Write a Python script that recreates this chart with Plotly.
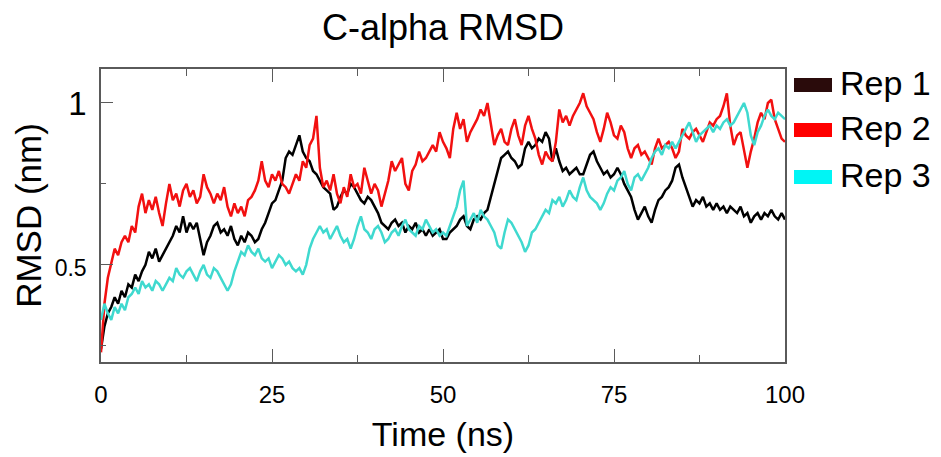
import plotly.graph_objects as go

# Time axis (ns), sampled every 0.5 ns
time_ns = [i * 0.5 for i in range(201)]

rep1 = [
    0.24, 0.31, 0.35, 0.37, 0.40, 0.38, 0.42, 0.40, 0.44, 0.43,
    0.47, 0.45, 0.48, 0.50, 0.54, 0.52, 0.55, 0.51, 0.53, 0.55,
    0.57, 0.59, 0.62, 0.60, 0.65, 0.60, 0.63, 0.61, 0.63, 0.58,
    0.53, 0.57, 0.59, 0.62, 0.63, 0.60, 0.61, 0.59, 0.62, 0.58,
    0.56, 0.59, 0.57, 0.60, 0.59, 0.57, 0.58, 0.61, 0.63, 0.66,
    0.69, 0.70, 0.73, 0.76, 0.83, 0.85, 0.84, 0.87, 0.90, 0.85,
    0.83, 0.82, 0.79, 0.78, 0.76, 0.74, 0.73, 0.72, 0.67, 0.68,
    0.71, 0.73, 0.72, 0.75, 0.74, 0.72, 0.70, 0.69, 0.71, 0.70,
    0.68, 0.66, 0.63, 0.62, 0.61, 0.63, 0.64, 0.62, 0.63, 0.60,
    0.62, 0.61, 0.63, 0.60, 0.61, 0.59, 0.61, 0.59, 0.60, 0.61,
    0.58, 0.58, 0.60, 0.61, 0.62, 0.64, 0.65, 0.62, 0.61, 0.64,
    0.65, 0.64, 0.66, 0.67, 0.71, 0.75, 0.79, 0.83, 0.84, 0.85,
    0.83, 0.82, 0.80, 0.81, 0.86, 0.88, 0.86, 0.87, 0.89, 0.88,
    0.91, 0.89, 0.82, 0.86, 0.82, 0.79, 0.80, 0.78, 0.79, 0.80,
    0.78, 0.78, 0.81, 0.84, 0.85, 0.82, 0.80, 0.78, 0.79, 0.77,
    0.78, 0.80, 0.78, 0.75, 0.73, 0.71, 0.67, 0.64, 0.66, 0.68,
    0.65, 0.63, 0.67, 0.70, 0.71, 0.73, 0.74, 0.76, 0.80, 0.81,
    0.77, 0.74, 0.71, 0.68, 0.70, 0.69, 0.71, 0.68, 0.69, 0.67,
    0.69, 0.67, 0.68, 0.66, 0.68, 0.67, 0.66, 0.68, 0.65, 0.66,
    0.63, 0.65, 0.66, 0.64, 0.66, 0.65, 0.67, 0.65, 0.64, 0.66,
    0.64,
]

rep2 = [
    0.23, 0.38, 0.46, 0.51, 0.55, 0.53, 0.57, 0.59, 0.57, 0.62,
    0.60, 0.68, 0.72, 0.66, 0.70, 0.67, 0.71, 0.66, 0.62, 0.69,
    0.75, 0.70, 0.72, 0.68, 0.73, 0.75, 0.71, 0.73, 0.69, 0.71,
    0.78, 0.74, 0.72, 0.69, 0.72, 0.70, 0.74, 0.68, 0.65, 0.69,
    0.66, 0.68, 0.65, 0.70, 0.71, 0.73, 0.76, 0.82, 0.76, 0.74,
    0.78, 0.76, 0.79, 0.75, 0.74, 0.72, 0.75, 0.78, 0.76, 0.82,
    0.80, 0.87, 0.89, 0.96, 0.80, 0.74, 0.76, 0.73, 0.78, 0.72,
    0.69, 0.74, 0.71, 0.78, 0.74, 0.75, 0.72, 0.80, 0.76, 0.72,
    0.75, 0.73, 0.68, 0.72, 0.76, 0.82, 0.79, 0.81, 0.83, 0.75,
    0.73, 0.79, 0.81, 0.85, 0.82, 0.83, 0.85, 0.87, 0.85, 0.91,
    0.88, 0.86, 0.83, 0.92, 0.97, 0.92, 0.95, 0.88, 0.91, 0.93,
    0.95, 0.98, 0.96, 1.00, 0.93, 0.87, 0.90, 0.92, 0.88, 0.87,
    0.92, 0.95, 0.90, 0.87, 0.93, 0.96, 0.92, 0.89, 0.84, 0.81,
    0.85, 0.83, 0.82, 0.88, 0.98, 0.94, 0.96, 0.93, 0.96, 0.98,
    1.00, 1.03, 0.99, 0.97, 0.95, 0.91, 0.88, 0.92, 0.97, 0.94,
    0.90, 0.89, 0.93, 0.91, 0.86, 0.83, 0.86, 0.87, 0.84, 0.85,
    0.83, 0.81, 0.86, 0.89, 0.86, 0.87, 0.88, 0.86, 0.83, 0.85,
    0.92, 0.90, 0.89, 0.91, 0.92, 0.90, 0.88, 0.91, 0.94, 0.93,
    0.95, 0.96, 0.99, 1.03, 0.93, 0.87, 0.90, 0.91, 0.85, 0.80,
    0.85, 0.89, 0.94, 0.97, 0.95, 1.00, 1.01, 0.95, 0.92, 0.89,
    0.88,
]

rep3 = [
    0.33, 0.38, 0.35, 0.33, 0.37, 0.35, 0.38, 0.36, 0.40, 0.41,
    0.43, 0.41, 0.45, 0.43, 0.44, 0.42, 0.45, 0.44, 0.42, 0.44,
    0.46, 0.45, 0.49, 0.47, 0.46, 0.48, 0.49, 0.47, 0.45, 0.48,
    0.50, 0.47, 0.46, 0.49, 0.48, 0.46, 0.44, 0.42, 0.44, 0.48,
    0.51, 0.54, 0.53, 0.56, 0.54, 0.53, 0.55, 0.52, 0.51, 0.52,
    0.49, 0.51, 0.53, 0.52, 0.50, 0.51, 0.49, 0.48, 0.49, 0.47,
    0.50, 0.55, 0.58, 0.60, 0.62, 0.60, 0.61, 0.58, 0.60, 0.62,
    0.59, 0.57, 0.58, 0.55, 0.58, 0.62, 0.65, 0.61, 0.60, 0.58,
    0.61, 0.62, 0.60, 0.57, 0.58, 0.60, 0.61, 0.59, 0.62, 0.64,
    0.61, 0.60, 0.59, 0.62, 0.61, 0.64, 0.62, 0.60, 0.61, 0.59,
    0.60, 0.59, 0.62, 0.65, 0.68, 0.73, 0.76, 0.62, 0.64, 0.66,
    0.63, 0.67, 0.65, 0.64, 0.62, 0.60, 0.56, 0.55, 0.60, 0.64,
    0.63, 0.61, 0.59, 0.57, 0.54, 0.56, 0.60, 0.61, 0.63, 0.65,
    0.67, 0.66, 0.70, 0.69, 0.71, 0.68, 0.70, 0.73, 0.71, 0.70,
    0.74, 0.77, 0.73, 0.71, 0.70, 0.69, 0.67, 0.69, 0.72, 0.74,
    0.73, 0.76, 0.77, 0.79, 0.75, 0.73, 0.77, 0.78, 0.76, 0.78,
    0.80, 0.83, 0.85, 0.86, 0.84, 0.87, 0.86, 0.88, 0.86, 0.88,
    0.90, 0.92, 0.94, 0.91, 0.88, 0.90, 0.91, 0.92, 0.93, 0.91,
    0.93, 0.92, 0.94, 0.95, 0.93, 0.94, 0.96, 0.98, 1.00, 0.97,
    0.90, 0.87, 0.91, 0.93, 0.96, 0.98, 0.96, 0.95, 0.97, 0.96,
    0.95,
]

series_names = ["Rep 1", "Rep 2", "Rep 3"]
series_values = [rep1, rep2, rep3]
line_colors = ["#000000", "#f21010", "#3fd9cf"]
swatch_colors = ["#2a0b0b", "#ff0000", "#00f5f5"]

x_tick_vals = [0, 25, 50, 75, 100]
x_tick_text = ["0", "25", "50", "75", "100"]
y_tick_vals = [0.5, 1.0]
y_tick_text = ['<span style="font-size:23px">0.5</span>', "1"]

FONT = "Liberation Sans, Arial, Helvetica, sans-serif"

# The page body adds an 8 px offset; the figure is sized to compensate
OFF = 8
W, H = 941 - OFF, 457 - OFF
# target plot area on page: x 101..785, y 69..362
L = 101 - OFF
T = 69 - OFF
R = 941 - 785
B = 457 - 362
plot_w = W - L - R
plot_h = H - T - B


def px_x(px):
    return (px - 101) / plot_w


def px_y(py):
    return (362 - py) / plot_h


fig = go.Figure()
for name, vals, col in zip(series_names, series_values, line_colors):
    fig.add_trace(go.Scatter(x=time_ns, y=vals, mode="lines", name=name,
                             line=dict(color=col, width=2.5),
                             showlegend=False))

# manual legend (swatch rectangles + labels)
legend_rows_px = [85, 130, 177]
shapes = []
annotations = []
for name, col, cy in zip(series_names, swatch_colors, legend_rows_px):
    shapes.append(dict(type="rect", xref="paper", yref="paper",
                       x0=px_x(794), x1=px_x(832),
                       y0=px_y(cy + 7), y1=px_y(cy - 7), fillcolor=col,
                       line=dict(width=0)))
    annotations.append(dict(xref="paper", yref="paper",
                            x=px_x(838), y=px_y(cy - 2),
                            xanchor="left", yanchor="middle",
                            text=name, showarrow=False,
                            font=dict(family=FONT, size=34, color="black")))

axis_line = dict(showline=True, linecolor="#5a5a5a", linewidth=1.5,
                 showgrid=False, zeroline=False)

fig.update_layout(
    width=W, height=H,
    margin=dict(l=L, r=R, t=T, b=B, autoexpand=False),
    paper_bgcolor="white", plot_bgcolor="white",
    font=dict(family=FONT, color="black"),
    title=dict(text="C-alpha RMSD", x=0.5, xref="paper", xanchor="center",
               y=1 - (27 - OFF) / H, yref="container", yanchor="middle",
               font=dict(family=FONT, size=36, color="black")),
    xaxis=dict(range=[0, 100], tickvals=x_tick_vals, ticktext=x_tick_text,
               ticks="inside", ticklen=13, tickwidth=1.2, tickcolor="#5a5a5a",
               mirror="ticks",
               minor=dict(dtick=12.5, tick0=0, ticks="inside", ticklen=7,
                          tickwidth=1.2, tickcolor="#5a5a5a"),
               tickfont=dict(family=FONT, size=24, color="black"),
               ticklabelstandoff=10,
               title=dict(text="Time (ns)", standoff=16,
                          font=dict(family=FONT, size=34, color="black")),
               **axis_line),
    yaxis=dict(range=[0.2, 1.105], tickvals=y_tick_vals, ticktext=y_tick_text,
               ticks="inside", ticklen=12, tickwidth=1.2, tickcolor="#5a5a5a",
               mirror=True,
               minor=dict(dtick=0.25, tick0=0, ticks="inside", ticklen=5,
                          tickwidth=1.2, tickcolor="#5a5a5a"),
               tickfont=dict(family=FONT, size=33, color="black"),
               ticklabelstandoff=6,
               title=dict(text="RMSD (nm)", standoff=2,
                          font=dict(family=FONT, size=35, color="black")),
               **axis_line),
    shapes=shapes,
    annotations=annotations,
)

fig.write_html("out.html")
